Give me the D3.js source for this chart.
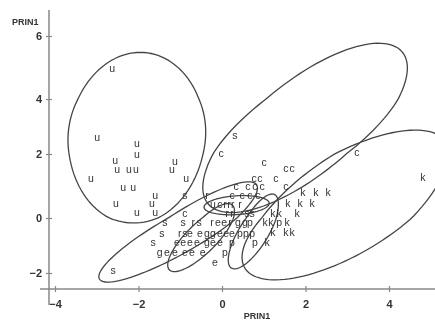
<!DOCTYPE html>
<html>
<head>
<meta charset="utf-8">
<script src="https://cdn.jsdelivr.net/npm/d3@7"></script>
<style>
  body { margin: 0; background: #fff; }
  #vis1 { will-change: transform; }
  text { font-family: "Liberation Sans", Arial, sans-serif; }
</style>
</head>
<body>
<div id="vis1"></div>
<script>
// tick values
let xTicks = [-4, -2, 0, 2, 4];
let yTicks = [-2, 0, 2, 4, 6];

// points per group: PRIN1 (x), PRIN1 (y)
let uPts = [[-2.63, 4.98], [-2.99, 2.62], [-2.04, 2.40], [-2.04, 2.0], [-2.56, 1.81], [-2.51, 1.53],
  [-2.23, 1.53], [-2.06, 1.53], [-1.13, 1.78], [-1.20, 1.53], [-3.14, 1.25], [-2.37, 0.97],
  [-2.13, 0.97], [-0.86, 1.25], [-1.60, 0.72], [-2.54, 0.47], [-1.68, 0.47], [-2.04, 0.19],
  [-1.60, 0.19], [-0.22, 0.44]];
let sPts = [[0.31, 2.69], [-2.61, -1.89], [-0.89, 0.72], [0.60, 0.16], [0.72, 0.16], [-1.37, -0.15],
  [-0.93, -0.15], [-0.55, -0.15], [-1.44, -0.55], [-0.89, -0.55], [-1.65, -0.87]];
let rPts = [[-0.36, 0.72], [0.07, 0.44], [0.17, 0.44], [0.26, 0.44], [0.43, 0.44], [0.12, 0.16],
  [0.24, 0.16], [-0.69, -0.15], [-0.24, -0.15], [0.19, -0.15], [-1.01, -0.55]];
let cPts = [[-0.02, 2.04], [1.01, 1.75], [1.53, 1.56], [1.68, 1.56], [0.77, 1.25], [0.91, 1.25],
  [1.29, 1.25], [0.34, 1.0], [0.62, 1.0], [0.79, 1.0], [0.96, 1.0], [1.53, 1.0], [0.24, 0.72],
  [0.48, 0.72], [0.67, 0.72], [0.86, 0.72], [-0.05, 0.44], [-0.89, 0.16], [3.23, 2.07]];
let kPts = [[4.81, 1.28], [1.94, 0.81], [2.25, 0.81], [2.54, 0.81], [1.58, 0.47], [1.87, 0.47],
  [2.16, 0.47], [1.22, 0.16], [1.37, 0.16], [1.80, 0.16], [1.03, -0.15], [1.17, -0.15],
  [1.56, -0.15], [1.22, -0.51], [1.53, -0.51], [1.68, -0.51], [1.08, -0.87]];
let pPts = [[0.67, -0.15], [1.37, -0.15], [0.43, -0.55], [0.57, -0.55], [0.72, -0.55], [0.24, -0.87],
  [0.79, -0.87], [0.07, -1.24]];
let gPts = [[0.38, -0.15], [0.55, -0.15], [-0.36, -0.55], [-0.22, -0.55], [-0.36, -0.87], [-1.49, -1.24]];
let ePts = [[-0.10, -0.15], [0.05, -0.15], [-0.53, -0.55], [-0.05, -0.55], [0.10, -0.55], [0.24, -0.55],
  [-0.77, -0.55], [-1.08, -0.87], [-0.93, -0.87], [-0.77, -0.87], [-0.60, -0.87], [-0.22, -0.87],
  [-0.05, -0.87], [-1.32, -1.24], [-1.13, -1.24], [-0.89, -1.24], [-0.72, -1.24], [-0.46, -1.24],
  [-0.17, -1.60]];

// ellipses: center x, center y, half width, half height, tilt correlation
let ellU = [-2.04, 2.65, 1.65, 2.83, 0.05];
let ellC = [1.99, 2.97, 2.45, 2.8, 0.72];
let ellK = [2.95, 0.31, 2.47, 2.56, 0.68];
let ellS = [-1.05, -0.6, 1.9, 1.73, 0.887];
let ellE = [-0.5, -0.75, 0.8, 1.2, 0.8];
let ellP = [0.75, -0.55, 0.6, 1.3, 0.75];
let ellR = [0.35, 0.4, 0.78, 0.3, 0.2];

let groups = [["u", uPts], ["s", sPts], ["r", rPts], ["c", cPts], ["k", kPts],
  ["p", pPts], ["g", gPts], ["e", ePts]];
let ellipses = [ellU, ellC, ellK, ellS, ellE, ellP, ellR];

let svg = d3.select("#vis1").append("svg").attr("width", 435).attr("height", 321);

let xScale = d3.scaleLinear().domain([-4, 4]).range([55, 389]);
let yScale = d3.scaleLinear().domain(yTicks).range([273, 218, 154, 99, 36]);

// axes, crossing like the original
let xAxis = svg.append("g").attr("transform", "translate(0,289)")
  .call(d3.axisBottom(xScale).tickValues(xTicks).tickSizeInner(3).tickSizeOuter(0).tickPadding(8));
xAxis.select(".domain").remove();
xAxis.append("line").attr("x1", 40).attr("x2", 435);
xAxis.selectAll("line").attr("stroke", "#888").attr("stroke-width", 1.5);
xAxis.selectAll(".tick line").attr("y1", -3).attr("y2", 3).attr("stroke-width", 1.2);

let yAxis = svg.append("g").attr("transform", "translate(49,0)")
  .call(d3.axisLeft(yScale).tickValues(yTicks).tickSizeInner(3).tickSizeOuter(0).tickPadding(4));
yAxis.select(".domain").remove();
yAxis.append("line").attr("y1", 10).attr("y2", 305);
yAxis.selectAll("line").attr("stroke", "#888").attr("stroke-width", 1.5);
yAxis.selectAll(".tick line").attr("x1", -3).attr("x2", 3).attr("stroke-width", 1.2);

svg.selectAll(".tick text").attr("fill", "#333").style("font-size", "11px").style("font-weight", "bold");

svg.append("text").attr("x", 12).attr("y", 25).text("PRIN1")
  .attr("fill", "#333").style("font-size", "9px").style("font-weight", "bold");
svg.append("text").attr("x", 257).attr("y", 319).attr("text-anchor", "middle").text("PRIN1")
  .attr("fill", "#333").style("font-size", "9px").style("font-weight", "bold");

// ellipse outlines
let line = d3.line().curve(d3.curveLinearClosed)
  .x((d) => xScale(d[0])).y((d) => yScale(d[1]));
function ellipsePts(e) {
  let pts = [];
  for (let i = 0; i < 120; i++) {
    let t = (i / 120) * 2 * Math.PI;
    pts.push([e[0] + e[2] * Math.cos(t),
      e[1] + e[3] * (e[4] * Math.cos(t) + Math.sqrt(1 - e[4] * e[4]) * Math.sin(t))]);
  }
  return pts;
}
svg.append("g").selectAll("path").data(ellipses).enter().append("path")
  .attr("d", (d) => line(ellipsePts(d)))
  .attr("fill", "none").attr("stroke", "#444").attr("stroke-width", 1.3);

// letters
groups.forEach((grp) => {
  svg.append("g").selectAll("text").data(grp[1]).enter().append("text")
    .attr("x", (d) => xScale(d[0]))
    .attr("y", (d) => yScale(d[1]))
    .attr("text-anchor", "middle")
    .attr("dy", "0.35em")
    .attr("fill", "#333")
    .style("font-size", "10.5px")
    .text(grp[0]);
});
</script>
</body>
</html>
